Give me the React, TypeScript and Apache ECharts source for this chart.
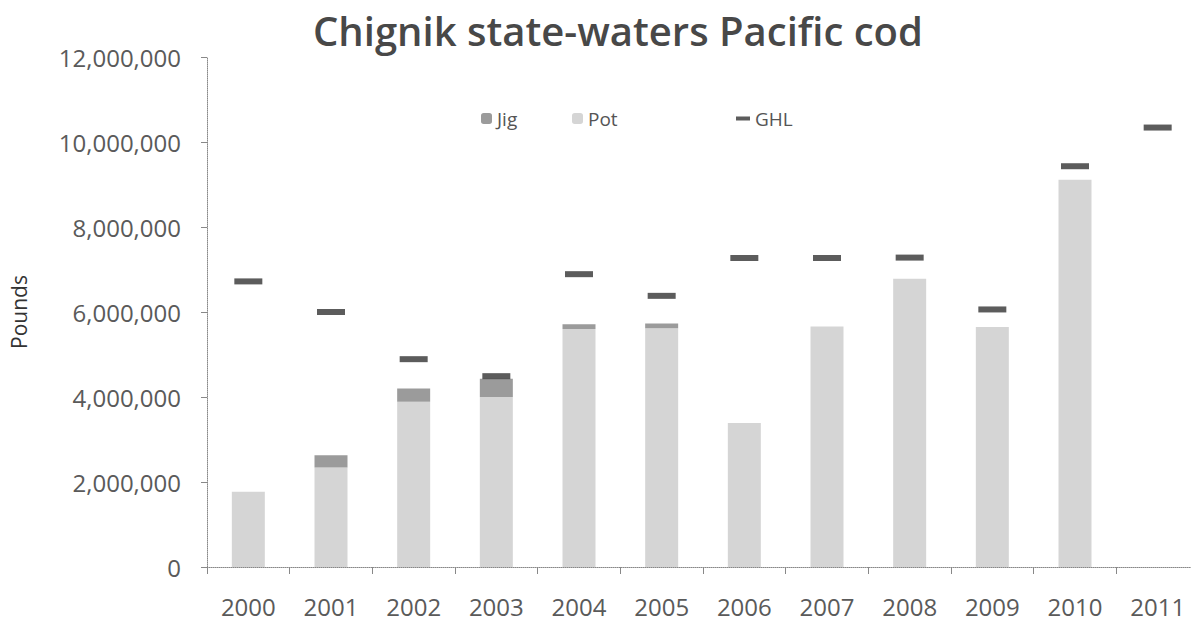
import React, { useEffect, useRef } from "react";
import * as echarts from "echarts";

const years = ["2000", "2001", "2002", "2003", "2004", "2005", "2006", "2007", "2008", "2009", "2010", "2011"];
const potValues = [1770000, 2340000, 3890000, 4000000, 5600000, 5620000, 3390000, 5660000, 6780000, 5650000, 9110000, null];
const jigValues = [0, 290000, 310000, 430000, 110000, 110000, 0, 0, 0, 0, 0, null];
const ghlValues = [6720000, 6000000, 4890000, 4490000, 6890000, 6380000, 7270000, 7270000, 7280000, 6060000, 9430000, 10340000];

const FONT = "'Open Sans', sans-serif";

export default function App() {
  const ref = useRef<HTMLDivElement>(null);
  useEffect(() => {
    if (!ref.current) return;
    const chart = echarts.init(ref.current, null, { renderer: "svg" });
    const legendText = { fontFamily: FONT, fontSize: 19, color: "#555" };
    chart.setOption({
      animation: false,
      backgroundColor: "#fff",
      title: {
        text: "Chignik state-waters Pacific cod",
        left: 308,
        top: 5,
        textStyle: { fontFamily: FONT, fontSize: 40, fontWeight: 600, color: "#484848" },
      },
      legend: [
        { data: ["Jig"], left: 476, top: 104, itemWidth: 11, itemHeight: 11, itemGap: 7, textStyle: legendText },
        { data: ["Pot"], left: 567, top: 104, itemWidth: 11, itemHeight: 11, itemGap: 7, textStyle: legendText },
        { data: ["GHL"], left: 731, top: 104, itemWidth: 14, itemHeight: 4, itemGap: 4, textStyle: legendText },
      ],
      grid: { left: 201, right: 0, top: 57, bottom: 61 },
      xAxis: {
        type: "category",
        data: years,
        boundaryGap: true,
        axisLine: { lineStyle: { color: "#888", type: "dotted", width: 1 } },
        axisTick: { show: true, alignWithLabel: false, length: 7, lineStyle: { color: "#888" } },
        axisLabel: { fontFamily: FONT, fontSize: 24, color: "#5a5a5a", margin: 27 },
      },
      yAxis: {
        type: "value",
        min: 0,
        max: 12000000,
        interval: 2000000,
        name: "Pounds",
        nameLocation: "middle",
        nameRotate: 90,
        nameGap: 178,
        nameTextStyle: { fontFamily: FONT, fontSize: 21, color: "#333" },
        axisLine: { show: true, lineStyle: { color: "#888", type: "dotted", width: 1 } },
        axisTick: { show: true, length: 6, lineStyle: { color: "#888" } },
        splitLine: { show: false },
        axisLabel: {
          fontFamily: FONT,
          fontSize: 24,
          color: "#5a5a5a",
          margin: 26,
          formatter: (v: number) => v.toLocaleString("en-US"),
        },
      },
      series: [
        {
          name: "Pot",
          type: "bar",
          stack: "catch",
          data: potValues,
          barWidth: 33,
          itemStyle: { color: "#d5d5d5" },
        },
        {
          name: "Jig",
          type: "bar",
          stack: "catch",
          data: jigValues,
          barWidth: 33,
          itemStyle: { color: "#9b9b9b" },
        },
        {
          name: "GHL",
          type: "scatter",
          data: ghlValues,
          symbol: "rect",
          symbolSize: [28, 6],
          itemStyle: { color: "#333" },
          z: 5,
        },
      ],
    });
    return () => chart.dispose();
  }, []);
  return <div ref={ref} style={{ width: 1199, height: 628, margin: -8 }} />;
}
